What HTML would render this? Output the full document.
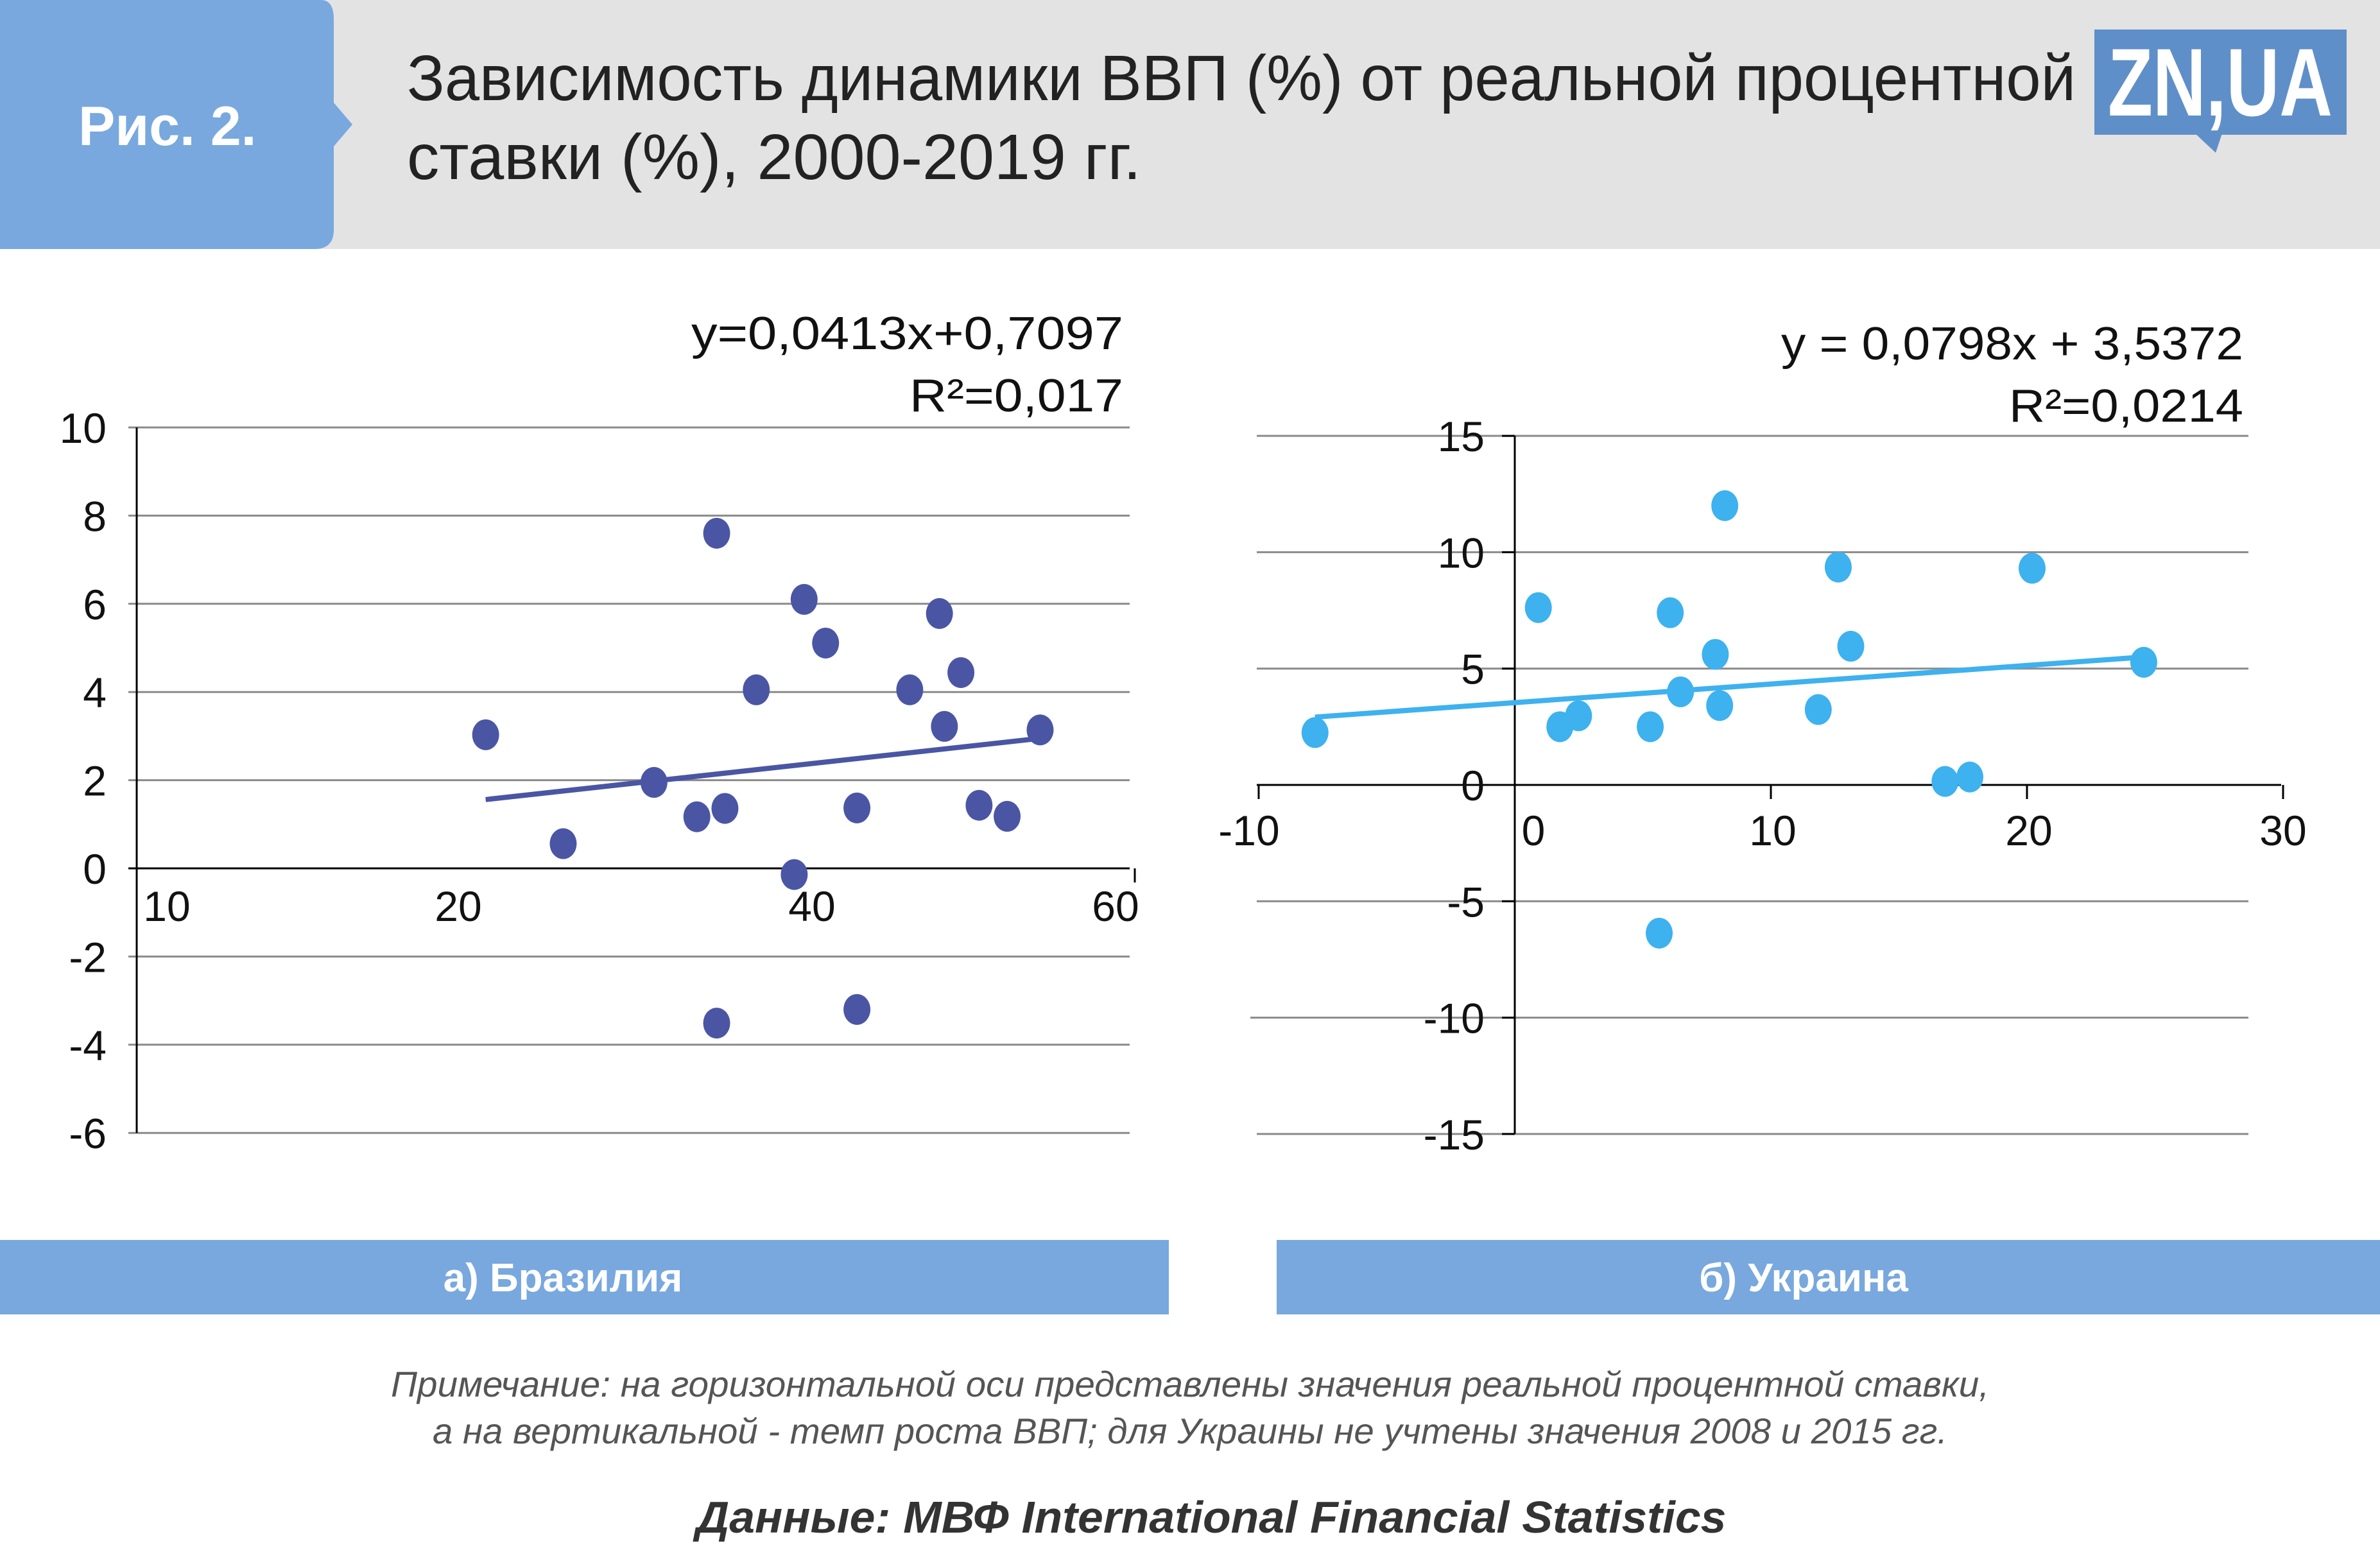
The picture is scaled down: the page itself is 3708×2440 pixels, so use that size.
<!DOCTYPE html>
<html><head><meta charset="utf-8"><style>
html,body{margin:0;padding:0;background:#fff;}
svg{display:block;font-family:"Liberation Sans",sans-serif;}
</style></head><body>
<svg id="s" width="3708" height="2440" viewBox="0 0 3708 2440" xmlns="http://www.w3.org/2000/svg">
<rect x="0" y="0" width="3708" height="388" fill="#e3e3e3"/>
<path d="M0 0 H500 Q520 0 520 30 V160 L549 194 L520 228 V358 Q520 388 490 388 H0 Z" fill="#78a8de"/>
<text x="122" y="226" font-size="86" font-weight="bold" fill="#fff">Рис. 2.</text>
<text x="634" y="156" font-size="100" fill="#222" textLength="2600" lengthAdjust="spacingAndGlyphs">Зависимость динамики ВВП (%) от реальной процентной</text>
<text x="634" y="279" font-size="100" fill="#222" textLength="1144" lengthAdjust="spacingAndGlyphs">ставки (%), 2000-2019 гг.</text>
<g>
<rect x="3263" y="46" width="393" height="164" fill="#5f8fc8"/>
<path d="M3420 208 L3462 208 L3452 238 Z" fill="#5f8fc8"/>
<text x="3459" y="180" font-size="150" font-weight="bold" fill="#fff" text-anchor="middle" textLength="350" lengthAdjust="spacingAndGlyphs">ZN,UA</text>
</g>
<g id="br"></g>
<g id="ua"></g>
<rect x="0" y="1932" width="1821" height="116" fill="#78a8de"/>
<text x="877" y="2012" font-size="62" font-weight="bold" fill="#fff" text-anchor="middle">а) Бразилия</text>
<rect x="1989" y="1932" width="1719" height="116" fill="#78a8de"/>
<text x="2810" y="2012" font-size="62" font-weight="bold" fill="#fff" text-anchor="middle">б) Украина</text>
<text x="1854" y="2176" font-size="56" font-style="italic" fill="#555" text-anchor="middle" textLength="2490" lengthAdjust="spacingAndGlyphs">Примечание: на горизонтальной оси представлены значения реальной процентной ставки,</text>
<text x="1854" y="2249" font-size="56" font-style="italic" fill="#555" text-anchor="middle" textLength="2360" lengthAdjust="spacingAndGlyphs">а на вертикальной - темп роста ВВП; для Украины не учтены значения 2008 и 2015 гг.</text>
<text x="1887" y="2388" font-size="70" font-style="italic" font-weight="bold" fill="#333" text-anchor="middle" textLength="1605" lengthAdjust="spacingAndGlyphs">Данные: МВФ International Financial Statistics</text>
</svg>
<script>
const brX=[20.6,25.3,30.8,34.6,33.4,35.1,34.6,37.0,39.3,39.9,41.2,43.1,43.1,46.3,48.1,48.4,49.4,50.5,52.2,54.2];
const brY=[3.03,0.56,1.95,7.6,1.17,1.36,-3.51,4.05,-0.14,6.1,5.11,1.37,-3.2,4.05,5.78,3.22,4.44,1.43,1.18,3.14];
const brYTicks=[10,8,6,4,2,0,-2,-4,-6];
const brXTicks=[10,20,40,60];
const brTrend=[0.0413,0.7097];
const uaX=[-7.8,0.92,1.76,2.49,5.29,5.64,6.07,6.47,7.83,8.0,8.2,11.85,12.63,13.12,16.8,17.77,20.2,24.56];
const uaY=[2.25,7.62,2.5,2.97,2.5,-6.37,7.4,4.0,5.61,3.41,12.0,3.24,9.36,5.96,0.15,0.34,9.31,5.27];
const uaYTicks=[15,10,5,0,-5,-10,-15];
const uaXTicks=[-10,0,10,20,30];
const uaTrend=[0.0798,3.5372];
const NS='http://www.w3.org/2000/svg';
function mk(p,t,a,txt){const e=document.createElementNS(NS,t);for(const k in a)e.setAttribute(k,a[k]);if(txt!==undefined)e.textContent=txt;p.appendChild(e);return e;}
// Brazil
(function(){
const g=document.getElementById('br');
const X=x=>227+x*25.71, Y=y=>1353-68.7*y;
brYTicks.forEach(v=>{
const l=mk(g,'line',{x1:200,x2:1760,y1:Y(v),y2:Y(v),stroke:v===0?'#000':'#8a8a8a','stroke-width':3});


const t=mk(g,'text',{x:166,y:Y(v)+24,'font-size':66,'text-anchor':'end',fill:'#111'},String(v));


});
mk(g,'line',{x1:213,x2:213,y1:Y(10),y2:Y(-6),stroke:'#000','stroke-width':3});
mk(g,'line',{x1:1768,x2:1768,y1:Y(0),y2:Y(0)+22,stroke:'#000','stroke-width':3});
const brXPos={10:260,20:714,40:1265,60:1738};
brXTicks.forEach(v=>{
const t=mk(g,'text',{x:brXPos[v],y:1435,'font-size':66,'text-anchor':'middle',fill:'#111'},String(v));


});
const x0=Math.min(...brX),x1=Math.max(...brX);
const tl=mk(g,'line',{x1:X(x0),y1:Y(brTrend[0]*x0+brTrend[1]),x2:X(x1),y2:Y(brTrend[0]*x1+brTrend[1]),stroke:'#4a56a3','stroke-width':8});


brX.forEach((x,i)=>{
const c=mk(g,'ellipse',{cx:X(x),cy:Y(brY[i]),rx:21,ry:24,fill:'#4a56a3'});


});
const e1=mk(g,'text',{x:1750,y:544,'font-size':72,'text-anchor':'end',fill:'#111',textLength:673,lengthAdjust:'spacingAndGlyphs'},'y=0,0413x+0,7097');


const e2=mk(g,'text',{x:1750,y:641,'font-size':72,'text-anchor':'end',fill:'#111',textLength:333,lengthAdjust:'spacingAndGlyphs'},'R²=0,017');


})();
// Ukraine
(function(){
const g=document.getElementById('ua');
const X=x=>2360+x*39.9, Y=y=>1223-36.26*y;
uaYTicks.forEach(v=>{
const l=mk(g,'line',{x1:v===-10?1948:1958,x2:v===0?3554:3503,y1:Y(v),y2:Y(v),stroke:v===0?'#000':'#8a8a8a','stroke-width':3});


mk(g,'line',{x1:2340,x2:2360,y1:Y(v),y2:Y(v),stroke:'#000','stroke-width':3});
const t=mk(g,'text',{x:2313,y:Y(v)+24,'font-size':66,'text-anchor':'end',fill:'#111'},String(v));


});
mk(g,'line',{x1:2360,x2:2360,y1:Y(15),y2:Y(-15),stroke:'#000','stroke-width':3});
uaXTicks.forEach(v=>{
mk(g,'line',{x1:X(v),x2:X(v),y1:Y(0),y2:Y(0)+22,stroke:'#000','stroke-width':3});
const t=mk(g,'text',{x:X(v)+(v===-10?-15:(v===0?29:(v===30?-0:3))),y:1317,'font-size':66,'text-anchor':'middle',fill:'#111'},String(v));


});
const x0=Math.min(...uaX),x1=Math.max(...uaX);
const tl=mk(g,'line',{x1:X(x0),y1:Y(uaTrend[0]*x0+uaTrend[1]),x2:X(x1),y2:Y(uaTrend[0]*x1+uaTrend[1]),stroke:'#3eb1ef','stroke-width':8});


uaX.forEach((x,i)=>{
const c=mk(g,'ellipse',{cx:X(x),cy:Y(uaY[i]),rx:21,ry:24,fill:'#3eb1ef'});


});
const e1=mk(g,'text',{x:3495,y:560,'font-size':72,'text-anchor':'end',fill:'#111',textLength:720,lengthAdjust:'spacingAndGlyphs'},'y = 0,0798x + 3,5372');


const e2=mk(g,'text',{x:3495,y:657,'font-size':72,'text-anchor':'end',fill:'#111',textLength:365,lengthAdjust:'spacingAndGlyphs'},'R²=0,0214');


})();
</script>
</body></html>
